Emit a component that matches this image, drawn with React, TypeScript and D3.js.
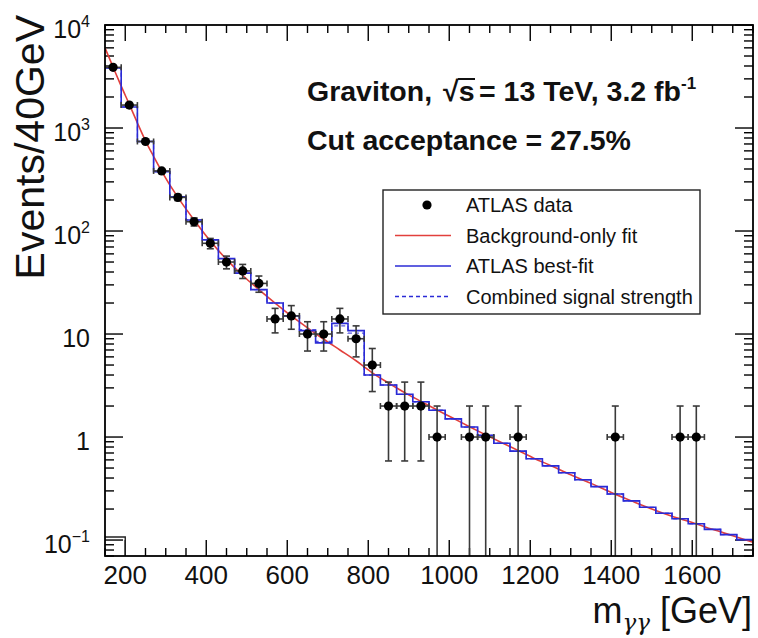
import React from "react";
import * as d3 from "d3";

// ATLAS data: bin centres [GeV] and event counts
const dataMass = [170, 210, 250, 290, 330, 370, 410, 450, 490, 530, 570, 610, 650, 690, 730, 770, 810, 850, 890, 930, 970, 1050, 1090, 1170, 1410, 1570, 1610];
const dataCounts = [3880, 1670, 740, 383, 212, 123, 76, 50, 41, 31, 14, 15, 10, 10, 14, 9, 5, 2, 2, 2, 1, 1, 1, 1, 1, 1, 1];

// background-only fit
const bgMass = [150, 170, 190, 210, 230, 250, 270, 290, 330, 370, 410, 450, 490, 530, 570, 610, 650, 690, 730, 770, 810, 850, 890, 930, 970, 1010, 1050, 1090, 1130, 1170, 1210, 1250, 1300, 1350, 1400, 1450, 1500, 1550, 1600, 1650, 1700, 1750];
const bgValue = [6000, 3900, 2550, 1700, 1120, 750, 530, 380, 212, 128, 80, 53, 37, 27, 20, 15, 11.5, 8.9, 7.0, 5.5, 4.2, 3.35, 2.7, 2.22, 1.83, 1.52, 1.26, 1.05, 0.88, 0.74, 0.62, 0.53, 0.43, 0.355, 0.29, 0.24, 0.2, 0.17, 0.148, 0.127, 0.11, 0.095];

// best-fit histogram (40 GeV bins)
const fitCenters = [170, 210, 250, 290, 330, 370, 410, 450, 490, 530, 570, 610, 650, 690, 730, 770, 810, 850, 890, 930, 970, 1010, 1050, 1090, 1130, 1170, 1210, 1250, 1290, 1330, 1370, 1410, 1450, 1490, 1530, 1570, 1610, 1650, 1690, 1730];
const fitValue = [3830, 1600, 740, 377, 215, 128, 82, 54, 39, 27, 20, 15, 10.8, 8.2, 12.7, 10.8, 4.0, 3.2, 2.6, 2.2, 1.82, 1.5, 1.25, 1.04, 0.87, 0.73, 0.615, 0.525, 0.45, 0.385, 0.33, 0.28, 0.24, 0.208, 0.182, 0.161, 0.144, 0.127, 0.113, 0.101];
const comboValue = [3830, 1600, 740, 377, 215, 128, 82, 54, 39, 27, 20, 15, 11.0, 8.5, 12.0, 10.2, 4.0, 3.2, 2.6, 2.2, 1.82, 1.5, 1.25, 1.04, 0.87, 0.73, 0.615, 0.525, 0.45, 0.385, 0.33, 0.28, 0.24, 0.208, 0.182, 0.161, 0.144, 0.127, 0.113, 0.101];

// small stray bin at the bottom-left corner
const strayLow = [150];
const strayHigh = [200];
const strayValue = [0.107];

const xTickValues = [200, 400, 600, 800, 1000, 1200, 1400, 1600];
const yDecades = [0.1, 1, 10, 100, 1000, 10000];
const yLabelBase = ["10", "1", "10", "10", "10", "10"];
const yLabelExp = ["\u22121", "", "", "2", "3", "4"];

const legendLabels = ["ATLAS data", "Background-only fit", "ATLAS best-fit", "Combined signal strength"];

const W = 758;
const H = 638;
const plot = { left: 105, right: 753, top: 25, bottom: 556 };
const font = "'Liberation Sans', Arial, Helvetica, sans-serif";
const RED = "#e2403c";
const BLUE = "#2b2bd6";
const ERR = "#3a3a3a";

const x = d3.scaleLinear().domain([150, 1750]).range([plot.left, plot.right]);
const y = d3.scaleLog().domain([0.07, 1e4]).range([plot.bottom, plot.top]);

const stepPath = (centers: number[], values: number[]) => {
  const pts: [number, number][] = centers.map((c, i) => [x(c - 20), y(values[i])]);
  pts.push([x(centers[centers.length - 1] + 20), y(values[values.length - 1])]);
  return d3.line().curve(d3.curveStepAfter)(pts) || "";
};

const App = () => {
  const bgLine = d3
    .line<number>()
    .x((d) => x(d))
    .y((d, i) => y(bgValue[i]))
    .curve(d3.curveMonotoneX)(bgMass) || "";

  const minorX = d3.range(150, 1751, 50).filter((v) => v % 200 !== 0);
  const minorY: number[] = [];
  [0.01, 0.1, 1, 10, 100, 1000].forEach((d) => {
    for (let k = 2; k <= 9; k++) {
      const v = k * d;
      if (v >= 0.07 && v <= 1e4) minorY.push(v);
    }
  });

  const legendY = (i: number) => 205 + i * 30.5;

  return (
    <svg width={W} height={H} style={{ position: "absolute", left: 0, top: 0, background: "#fff" }} fontFamily={font}>
      <defs>
        <clipPath id="plotArea">
          <rect x={plot.left} y={plot.top} width={plot.right - plot.left} height={plot.bottom - plot.top} />
        </clipPath>
      </defs>

      {/* ticks */}
      <g stroke="#000" strokeWidth={1.4}>
        {xTickValues.map((v) => (
          <g key={"xt" + v}>
            <line x1={x(v)} x2={x(v)} y1={plot.bottom} y2={plot.bottom - 16} />
            <line x1={x(v)} x2={x(v)} y1={plot.top} y2={plot.top + 16} />
          </g>
        ))}
        {minorX.map((v) => (
          <g key={"xm" + v}>
            <line x1={x(v)} x2={x(v)} y1={plot.bottom} y2={plot.bottom - 8} />
            <line x1={x(v)} x2={x(v)} y1={plot.top} y2={plot.top + 8} />
          </g>
        ))}
        {yDecades.map((v) => (
          <g key={"yt" + v}>
            <line x1={plot.left} x2={plot.left + 18} y1={y(v)} y2={y(v)} />
            <line x1={plot.right} x2={plot.right - 18} y1={y(v)} y2={y(v)} />
          </g>
        ))}
        {minorY.map((v) => (
          <g key={"ym" + v}>
            <line x1={plot.left} x2={plot.left + 9} y1={y(v)} y2={y(v)} />
            <line x1={plot.right} x2={plot.right - 9} y1={y(v)} y2={y(v)} />
          </g>
        ))}
      </g>

      <g clipPath="url(#plotArea)" fill="none">
        {/* stray bin */}
        {strayLow.map((lo, i) => (
          <path
            key={"s" + i}
            d={`M${x(lo)},${y(strayValue[i])}H${x(strayHigh[i])}V${plot.bottom}`}
            stroke="#222"
            strokeWidth={1.4}
          />
        ))}
        <path d={bgLine} stroke={RED} strokeWidth={1.6} />
        <path d={stepPath(fitCenters, fitValue)} stroke={BLUE} strokeWidth={1.6} />
        <path d={stepPath(fitCenters, comboValue)} stroke={BLUE} strokeWidth={1.3} strokeDasharray="4,3" opacity={0.8} />

        {/* data with sqrt(N) errors */}
        {dataMass.map((m, i) => {
          const n = dataCounts[i];
          const e = Math.sqrt(n);
          const cx = x(m);
          const cy = y(n);
          const yHi = y(n + e);
          const yLo = n - e > 0.07 ? y(n - e) : plot.bottom + 5;
          const xl = x(m - 20);
          const xr = x(m + 20);
          return (
            <g key={"d" + m} stroke={ERR} strokeWidth={1.6}>
              <line x1={xl} x2={xr} y1={cy} y2={cy} />
              <line x1={xl} x2={xl} y1={cy - 3} y2={cy + 3} />
              <line x1={xr} x2={xr} y1={cy - 3} y2={cy + 3} />
              <line x1={cx} x2={cx} y1={yHi} y2={yLo} />
              <line x1={cx - 3.5} x2={cx + 3.5} y1={yHi} y2={yHi} />
              {n - e > 0.07 && <line x1={cx - 3.5} x2={cx + 3.5} y1={yLo} y2={yLo} />}
              <circle cx={cx} cy={cy} r={4.6} fill="#000" stroke="none" />
            </g>
          );
        })}
      </g>

      {/* frame */}
      <rect x={plot.left} y={plot.top} width={plot.right - plot.left} height={plot.bottom - plot.top} fill="none" stroke="#000" strokeWidth={1.8} />

      {/* x tick labels */}
      {xTickValues.map((v) => (
        <text key={"xl" + v} x={x(v)} y={584} fontSize={26} textAnchor="middle" fill="#111">
          {v}
        </text>
      ))}
      {/* y tick labels */}
      {yDecades.map((v, i) => (
        <text key={"yl" + v} x={90} y={y(v) + 13} fontSize={25} textAnchor="end" fill="#111">
          {yLabelBase[i]}
          {yLabelExp[i] && (
            <tspan fontSize={16} dy={-11}>
              {yLabelExp[i]}
            </tspan>
          )}
        </text>
      ))}

      {/* axis titles */}
      <text transform="translate(44,15) rotate(-90)" textAnchor="end" fontSize={41} fill="#111">
        Events/40GeV
      </text>
      <text x={752} y={623} textAnchor="end" fontSize={36} fill="#111">
        m
        <tspan fontSize={23} fontStyle="italic" dy={7} fontFamily="'DejaVu Serif', serif">
          γγ
        </tspan>
        <tspan dy={-7}> [GeV]</tspan>
      </text>

      {/* annotations */}
      <g fontWeight="bold" fontSize={28.5} fill="#111">
        <text x={307} y={101}>Graviton,</text>
        <text x={443} y={101}>√s</text>
        <line x1={458} x2={475} y1={79} y2={79} stroke="#111" strokeWidth={2} />
        <text x={479} y={101}>
          = 13 TeV, 3.2 fb
          <tspan fontSize={17} dy={-12}>-1</tspan>
        </text>
        <text x={307} y={150}>Cut acceptance = 27.5%</text>
      </g>

      {/* legend */}
      <rect x={383} y={190} width={317} height={124} fill="#fff" stroke="#222" strokeWidth={1.4} />
      <circle cx={427} cy={legendY(0)} r={4.6} fill="#000" />
      <line x1={395} x2={451} y1={legendY(1)} y2={legendY(1)} stroke={RED} strokeWidth={1.6} />
      <line x1={395} x2={451} y1={legendY(2)} y2={legendY(2)} stroke={BLUE} strokeWidth={1.6} />
      <line x1={395} x2={451} y1={legendY(3)} y2={legendY(3)} stroke={BLUE} strokeWidth={1.4} strokeDasharray="4,3" />
      {legendLabels.map((l, i) => (
        <text key={l} x={466} y={legendY(i) + 7} fontSize={20} fill="#111">
          {l}
        </text>
      ))}
    </svg>
  );
};

export default App;
